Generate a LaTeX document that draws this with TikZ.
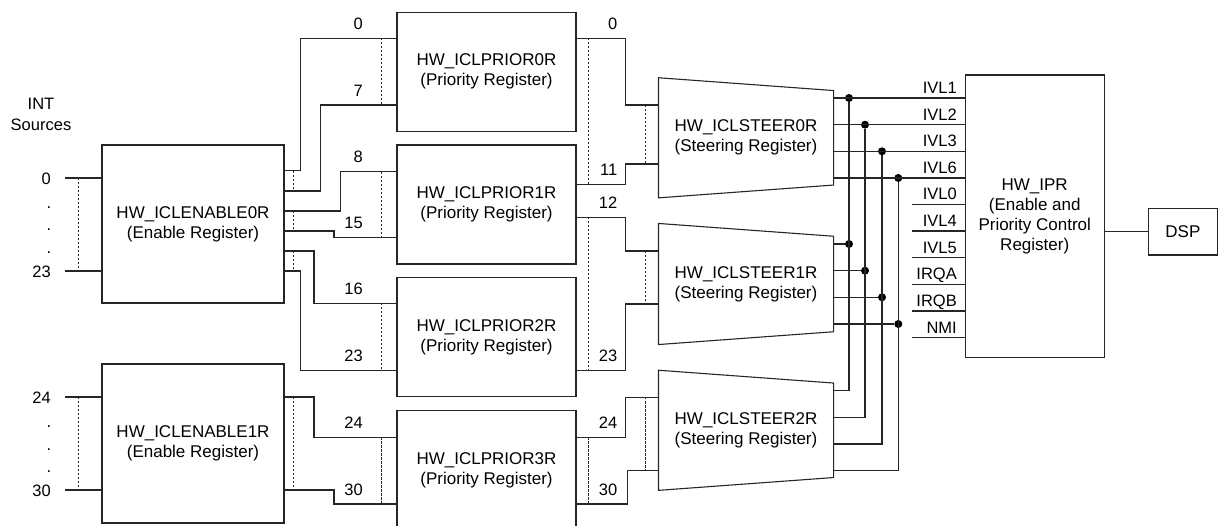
\documentclass[tikz,border=0pt]{standalone}
\usepackage{fontspec}
\setmainfont{Liberation Sans}
\usetikzlibrary{calc}
\begin{document}
\begin{tikzpicture}[x=1pt,y=-1pt,
  ln/.style={line width=1.1pt, draw=black!85},
  dsh/.style={line width=0.8pt, draw=black!85, dash pattern=on 2.2pt off 1.8pt},
  reg/.style={draw=black!85, line width=1.1pt, inner sep=0pt, align=center, font=\fontsize{17}{20}\selectfont},
  lbl/.style={inner sep=0pt, font=\fontsize{16.5}{21}\selectfont},
  jdot/.style={circle, fill=black, inner sep=0pt, minimum size=8pt}]
\useasboundingbox (0,0) rectangle (1218,526);

% registers
\node[reg, minimum width=182pt, minimum height=158pt] (e0) at (193,224) {HW\_ICLENABLE0R\\(Enable Register)};
\node[reg, minimum width=182pt, minimum height=159pt] (e1) at (193,443.5) {HW\_ICLENABLE1R\\(Enable Register)};
\node[reg, minimum width=179pt, minimum height=119pt] (p0) at (486.5,71.7) {HW\_ICLPRIOR0R\\(Priority Register)};
\node[reg, minimum width=179pt, minimum height=119pt] (p1) at (486.5,204.5) {HW\_ICLPRIOR1R\\(Priority Register)};
\node[reg, minimum width=179pt, minimum height=119pt] (p2) at (486.5,337) {HW\_ICLPRIOR2R\\(Priority Register)};
\node[reg, minimum width=179pt, minimum height=119pt] (p3) at (486.5,470) {HW\_ICLPRIOR3R\\(Priority Register)};
\node[reg, draw=none, minimum width=174pt, minimum height=119pt] (s0) at (746,137.8) {HW\_ICLSTEER0R\\(Steering Register)};
\node[reg, draw=none, minimum width=174pt, minimum height=120pt] (s1) at (746,284) {HW\_ICLSTEER1R\\(Steering Register)};
\node[reg, draw=none, minimum width=174pt, minimum height=119pt] (s2) at (746,430.3) {HW\_ICLSTEER2R\\(Steering Register)};
\foreach \s in {s0,s1,s2}{
  \draw[ln] (\s.north west) -- ($(\s.north east)+(0,12.8)$) -- ($(\s.south east)+(0,-12.8)$) -- (\s.south west) -- cycle;
}
\node[reg, minimum width=139.3pt, minimum height=282.3pt] (ipr) at (1034.7,216.2) {HW\_IPR\\(Enable and\\Priority Control\\Register)};
\node[reg, minimum width=69.2pt, minimum height=46.7pt] (dsp) at (1182.9,231.7) {DSP};

% INT sources
\node[lbl, align=center] (intsrc) at (41,114.5) {INT\\Sources};
\coordinate (i0) at (65,178);
\coordinate (i23) at (65,271);
\coordinate (i24) at (65,397);
\coordinate (i30) at (65,490);
\foreach \c in {i0,i23,i24,i30}{ \draw[ln] (\c) -- (e0.west |- \c); }
\node[lbl, anchor=east] (n0) at (51,179) {0};
\node[lbl, anchor=east] (n23) at (51,271.5) {23};
\node[lbl, anchor=east] (n24) at (51,397.5) {24};
\node[lbl, anchor=east] (n30) at (51,490.5) {30};
\foreach \y in {209,231,254,427.5,450,472}{ \node[lbl, anchor=base] at (49,\y) {.}; }
\draw[dsh] (78,178) -- (78,271);
\draw[dsh] (78,397) -- (78,490);

% enable -> priority
\draw[ln] (e0.east |- 0,170.7) -| (300.7,38.3) -- (p0.west |- 0,38.3);
\draw[ln] (e0.east |- 0,191) -| (320.7,105) -- (p0.west |- 0,105);
\draw[ln] (e0.east |- 0,211) -| (340.7,171.7) -- (p1.west |- 0,171.7);
\draw[ln] (e0.east |- 0,231) -| (334,237.7) -- (p1.west |- 0,237.7);
\draw[ln] (e0.east |- 0,251) -| (314,303.3) -- (p2.west |- 0,303.3);
\draw[ln] (e0.east |- 0,271) -| (300.7,370.7) -- (p2.west |- 0,370.7);
\draw[ln] (e1.east |- 0,397) -| (314,437.3) -- (p3.west |- 0,437.3);
\draw[ln] (e1.east |- 0,490) -| (334,504) -- (p3.west |- 0,504);

\draw[dsh] (293,170.7) -- (293,191);
\draw[dsh] (293,211) -- (293,231);
\draw[dsh] (293,251) -- (293,271);
\draw[dsh] (293,397) -- (293,490);
\draw[dsh] (381,38.3) -- (381,105);
\draw[dsh] (381,171.7) -- (381,237.7);
\draw[dsh] (381,303.3) -- (381,370.7);
\draw[dsh] (381,437.3) -- (381,504);

\node[lbl, anchor=base east] at (363,29.6) {0};
\node[lbl, anchor=base east] at (363,96.5) {7};
\node[lbl, anchor=base east] at (363,163) {8};
\node[lbl, anchor=base east] at (363,229) {15};
\node[lbl, anchor=base east] at (363,294.6) {16};
\node[lbl, anchor=base east] at (363,362) {23};
\node[lbl, anchor=base east] at (363,428.6) {24};
\node[lbl, anchor=base east] at (363,495.5) {30};

% priority -> steering
\draw[ln] (p0.east |- 0,38.3) -| (625.7,105) -- (s0.west |- 0,105);
\draw[ln] (p1.east |- 0,184.3) -| (625.7,164) -- (s0.west |- 0,164);
\draw[ln] (p1.east |- 0,217.3) -| (625.7,251) -- (s1.west |- 0,251);
\draw[ln] (p2.east |- 0,370.7) -| (625.7,304) -- (s1.west |- 0,304);
\draw[ln] (p3.east |- 0,437.3) -| (625.7,397.3) -- (s2.west |- 0,397.3);
\draw[ln] (p3.east |- 0,504) -| (627.7,470.7) -- (s2.west |- 0,470.7);

\draw[dsh] (588,38.3) -- (588,184.3);
\draw[dsh] (588,217.3) -- (588,370.7);
\draw[dsh] (588,437.3) -- (588,504);
\draw[dsh] (645,105) -- (645,164);
\draw[dsh] (645,251) -- (645,304);
\draw[dsh] (645,397.3) -- (645,470.7);

\node[lbl, anchor=base east] at (617.5,29.6) {0};
\node[lbl, anchor=base east] at (617.5,175.6) {11};
\node[lbl, anchor=base east] at (617.5,208.6) {12};
\node[lbl, anchor=base east] at (617.5,362) {23};
\node[lbl, anchor=base east] at (617.5,428.6) {24};
\node[lbl, anchor=base east] at (617.5,495.5) {30};

% steering -> IPR
\node[jdot] (d01) at (849,98) {};
\node[jdot] (d02) at (865,124.7) {};
\node[jdot] (d03) at (882,151.3) {};
\node[jdot] (d04) at (898.3,178) {};
\node[jdot] (d11) at (849,244) {};
\node[jdot] (d12) at (865,270.7) {};
\node[jdot] (d13) at (882,297.3) {};
\node[jdot] (d14) at (898.3,324) {};
\foreach \d in {d01,d02,d03,d04}{ \draw[ln] (s0.east |- \d) -- (ipr.west |- \d); }
\foreach \d in {d11,d12,d13,d14}{ \draw[ln] (s1.east |- \d) -- (\d); }
\draw[ln] (d01) -- (d01 |- 0,390.7) -- (s2.east |- 0,390.7);
\draw[ln] (d02) -- (d02 |- 0,417.3) -- (s2.east |- 0,417.3);
\draw[ln] (d03) -- (d03 |- 0,444) -- (s2.east |- 0,444);
\draw[ln] (d04) -- (d04 |- 0,470.7) -- (s2.east |- 0,470.7);

\foreach \n/\y in {f0/204.3,f4/231,f5/257.7,fa/284.3,fb/311,fn/337.7}{
  \coordinate (\n) at (911.7,\y);
  \draw[ln] (\n) -- (ipr.west |- \n);
}
\foreach \t/\y in {IVL1/93.6,IVL2/120.3,IVL3/146.9,IVL6/173.6,IVL0/199.9,IVL4/226.6,IVL5/253.3,IRQA/279.9,IRQB/306.6,NMI/333.3}{
  \node[lbl, anchor=base east] at (957,\y) {\t};
}

\draw[ln] (ipr.east |- dsp) -- (dsp.west);
\end{tikzpicture}
\end{document}
